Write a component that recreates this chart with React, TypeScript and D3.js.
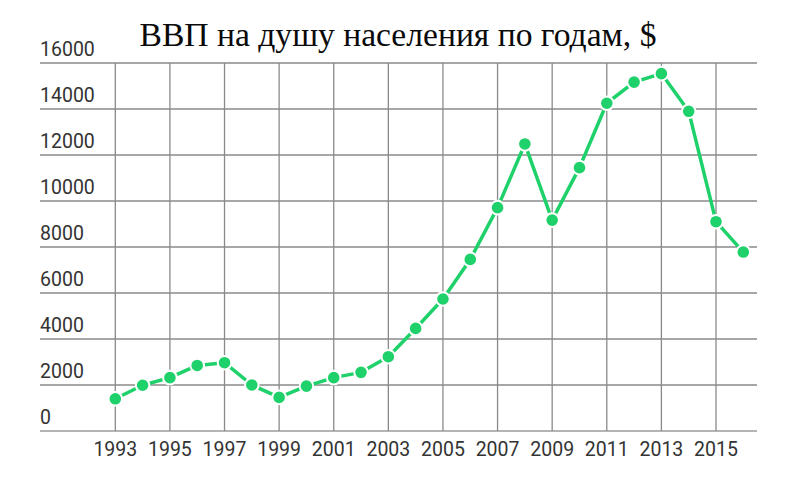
import React from "react";
import * as d3 from "d3";

const years: number[] = [1993,1994,1995,1996,1997,1998,1999,2000,2001,2002,2003,2004,2005,2006,2007,2008,2009,2010,2011,2012,2013,2014,2015,2016];
const gdp: number[] = [1400,1990,2320,2850,2970,2000,1460,1950,2320,2550,3230,4460,5740,7460,9710,12480,9170,11450,14250,15170,15540,13900,9100,7780];
const yTicks: number[] = [0,2000,4000,6000,8000,10000,12000,14000,16000];
const xTicks: number[] = [1993,1995,1997,1999,2001,2003,2005,2007,2009,2011,2013,2015];
const title = "ВВП на душу населения по годам, $";

const W = 800, H = 480;

export default function App() {
  const x = d3.scaleLinear().domain([1993, 2015]).range([115.3, 716]);
  const y = d3.scaleLinear().domain([0, 16000]).range([431, 63]);
  const line = d3.line<number>().x((_, i) => x(years[i])).y(d => y(d));
  const green = "#1fd16a";
  return (
    <svg width={W} height={H} style={{ position: "absolute", left: 0, top: 0, background: "#fff" }}>
      <text x={398} y={46} textAnchor="middle" fontFamily="'Liberation Serif', serif" fontSize={33.6} fill="#0a0a0a">{title}</text>
      {yTicks.map(t => (
        <g key={t}>
          <line x1={40} x2={757} y1={y(t)} y2={y(t)} stroke={t === 0 ? "#b4b4b4" : "#8a8a8a"} strokeWidth={t === 0 ? 2 : 1.3} />
          <text x={40} y={y(t) - 7} fontFamily="Roboto, sans-serif" fontSize={19.5} fill="#333">{t}</text>
        </g>
      ))}
      {xTicks.map(t => (
        <g key={t}>
          <line x1={x(t)} x2={x(t)} y1={y(16000)} y2={y(0)} stroke="#8a8a8a" strokeWidth={1.3} />
          <text x={x(t)} y={456} textAnchor="middle" fontFamily="Roboto, sans-serif" fontSize={19.5} fill="#333">{t}</text>
        </g>
      ))}
      <path d={line(gdp) || ""} fill="none" stroke={green} strokeWidth={3.5} strokeLinejoin="round" />
      {gdp.map((v, i) => (
        <circle key={i} cx={x(years[i])} cy={y(v)} r={6.8} fill={green} stroke="#fff" strokeWidth={2} />
      ))}
    </svg>
  );
}
